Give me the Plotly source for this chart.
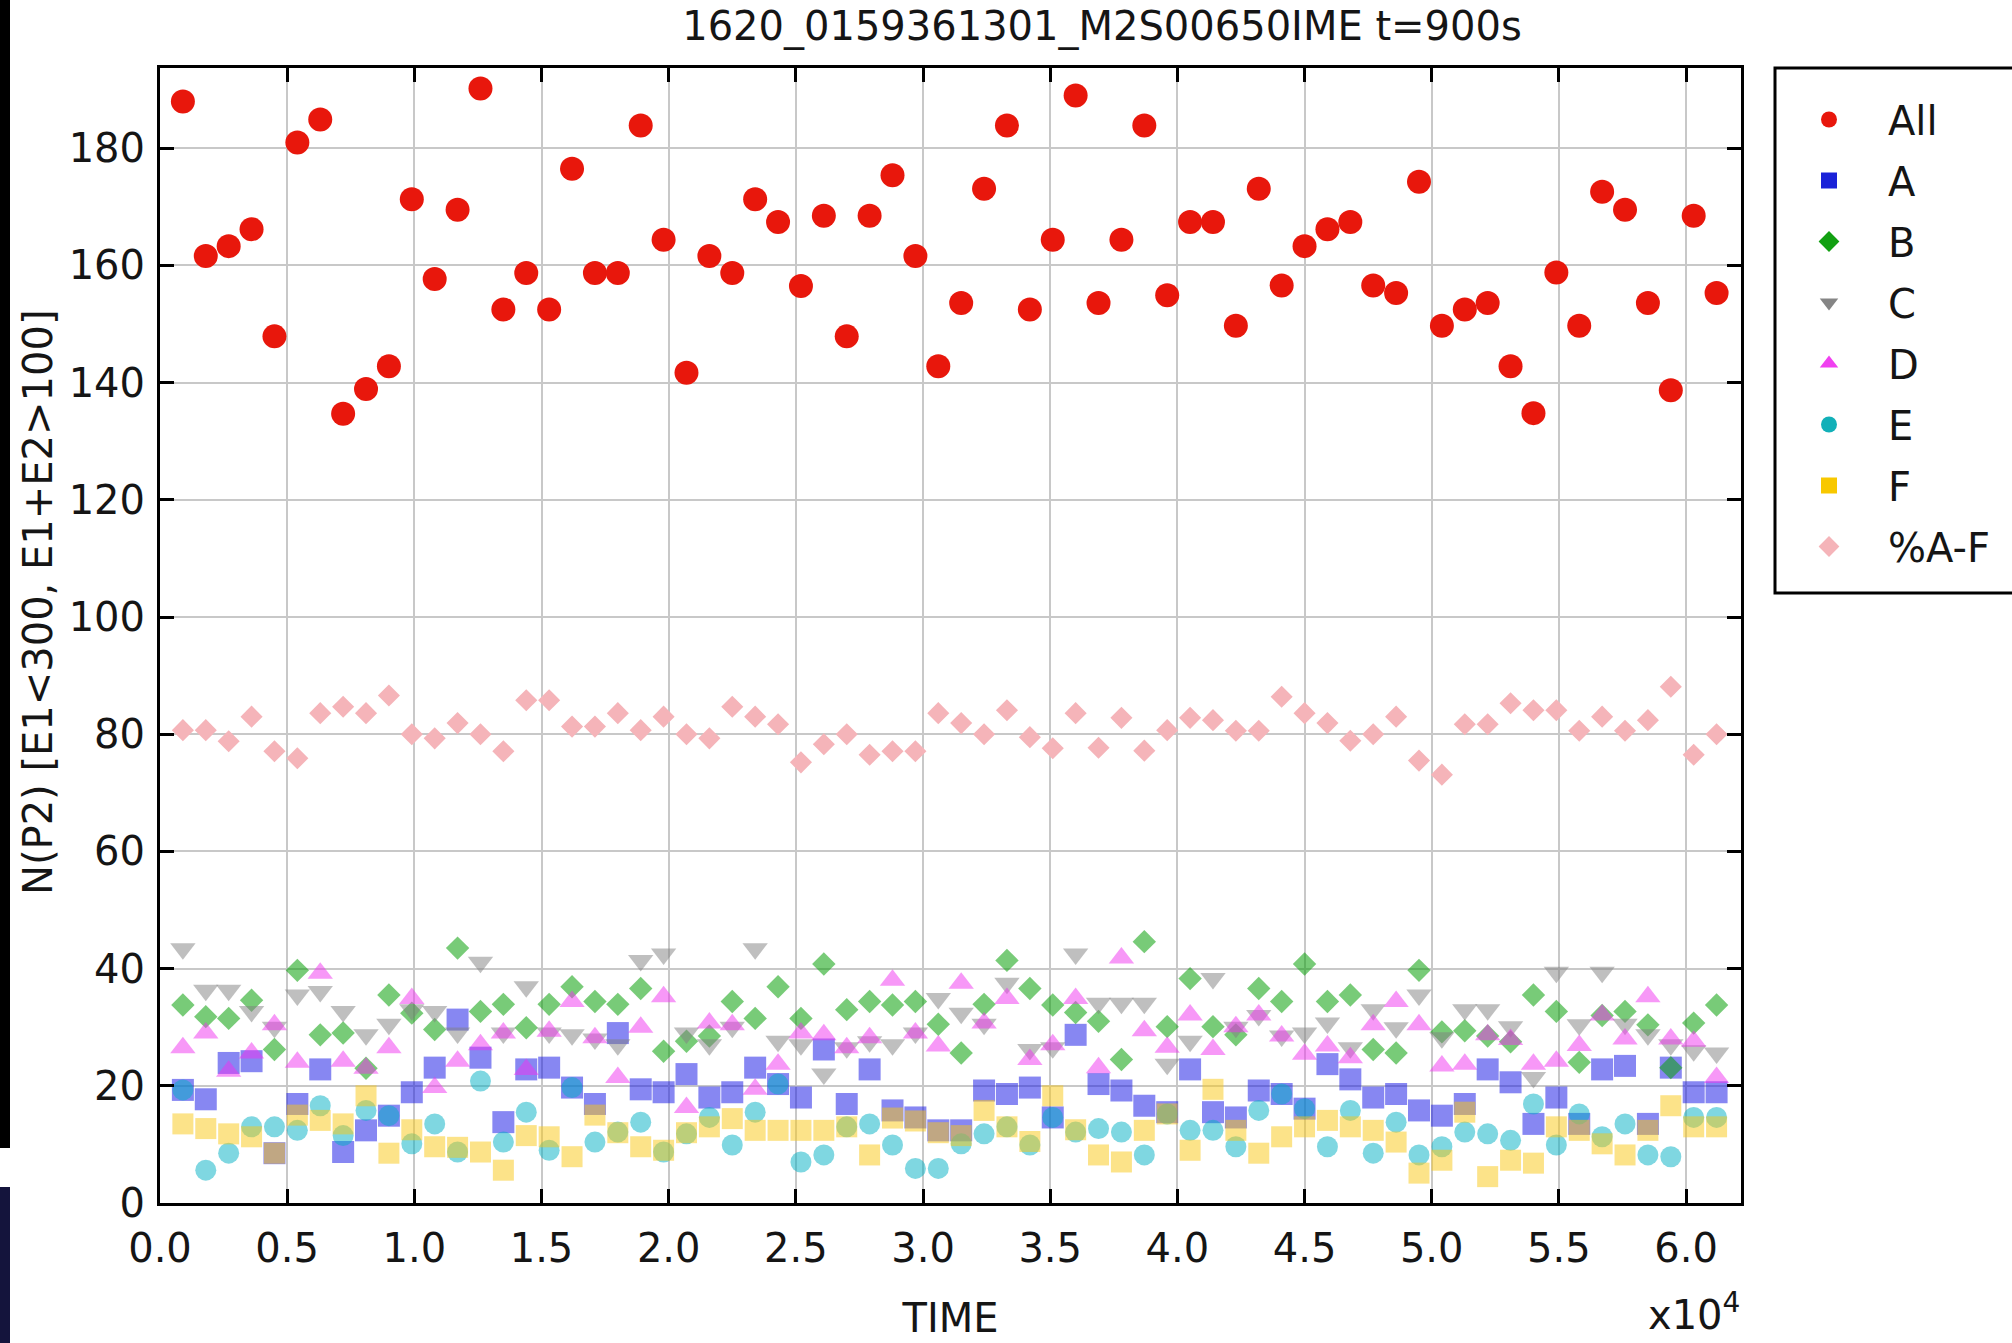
import plotly.graph_objects as go

# ---------------- data ----------------
time_s = [900, 1800, 2700, 3600, 4500, 5400, 6300, 7200, 8100, 9000,
          9900, 10800, 11700, 12600, 13500, 14400, 15300, 16200, 17100, 18000,
          18900, 19800, 20700, 21600, 22500, 23400, 24300, 25200, 26100, 27000,
          27900, 28800, 29700, 30600, 31500, 32400, 33300, 34200, 35100, 36000,
          36900, 37800, 38700, 39600, 40500, 41400, 42300, 43200, 44100, 45000,
          45900, 46800, 47700, 48600, 49500, 50400, 51300, 52200, 53100, 54000,
          54900, 55800, 56700, 57600, 58500, 59400, 60300, 61200]

all_counts = [188.0, 161.6, 163.3, 166.2, 147.9, 181.0, 184.9, 134.7, 138.9, 142.8,
              171.3, 157.7, 169.5, 190.2, 152.5, 158.7, 152.5, 176.5, 158.7, 158.7,
              183.9, 164.4, 141.7, 161.6, 158.7, 171.3, 167.4, 156.5, 168.5, 147.9,
              168.5, 175.4, 161.6, 142.8, 153.6, 173.1, 183.9, 152.5, 164.4, 189.0,
              153.6, 164.4, 183.9, 154.9, 167.4, 167.4, 149.7, 173.1, 156.6, 163.3,
              166.2, 167.4, 156.6, 155.3, 174.3, 149.7, 152.5, 153.6, 142.8, 134.8,
              158.8, 149.7, 172.6, 169.5, 153.6, 138.7, 168.5, 155.3]

a_counts = [19.3, 17.7, 23.9, 24.2, 8.5, 16.9, 22.8, 8.7, 12.4, 14.9,
            18.9, 23.1, 31.3, 24.8, 13.8, 22.8, 23.1, 19.7, 16.9, 29.0,
            19.4, 18.9, 22.0, 18.0, 18.9, 23.1, 20.3, 18.0, 26.2, 16.9,
            22.8, 15.8, 14.6, 12.4, 12.4, 19.2, 18.6, 19.7, 14.6, 28.7,
            20.3, 19.2, 16.6, 15.5, 22.8, 15.5, 14.6, 19.2, 18.6, 16.1,
            23.7, 21.1, 18.0, 18.6, 15.8, 14.9, 16.9, 22.8, 20.6, 13.5,
            18.0, 13.5, 22.8, 23.4, 13.5, 23.1, 18.9, 18.9]

b_counts = [33.8, 31.8, 31.5, 34.6, 26.2, 39.7, 28.7, 29.0, 23.0, 35.5,
            32.4, 29.6, 43.5, 32.7, 33.9, 29.9, 33.9, 36.9, 34.4, 33.9,
            36.6, 25.9, 27.6, 28.5, 34.4, 31.5, 36.9, 31.5, 40.8, 33.0,
            34.4, 33.8, 34.4, 30.5, 25.6, 33.9, 41.4, 36.6, 33.8, 32.5,
            31.0, 24.5, 44.6, 30.1, 38.3, 30.1, 28.7, 36.6, 34.4, 40.8,
            34.4, 35.5, 26.2, 25.6, 39.7, 29.2, 29.4, 28.5, 27.5, 35.5,
            32.7, 24.0, 32.0, 32.7, 30.4, 23.1, 30.7, 33.8]

c_counts = [43.4, 36.3, 36.3, 32.7, 30.0, 35.5, 36.1, 32.7, 28.7, 30.5,
            33.0, 32.7, 29.0, 41.1, 29.0, 36.9, 29.0, 28.7, 28.0, 27.0,
            41.4, 42.5, 29.0, 27.0, 30.0, 43.4, 27.6, 27.0, 22.0, 26.5,
            27.5, 27.0, 29.0, 34.9, 32.4, 30.5, 37.5, 26.2, 26.5, 42.5,
            34.1, 34.1, 34.1, 23.7, 27.6, 38.3, 30.0, 32.0, 28.5, 29.0,
            30.7, 26.5, 33.0, 29.9, 35.5, 28.2, 33.0, 33.0, 30.1, 21.4,
            39.4, 30.4, 39.4, 30.5, 28.7, 27.0, 26.0, 25.6]

d_counts = [26.5, 29.0, 22.5, 25.6, 30.4, 24.0, 39.2, 24.2, 23.0, 26.5,
            34.9, 19.7, 24.2, 27.0, 29.0, 22.8, 29.3, 34.4, 28.2, 21.4,
            30.0, 35.2, 16.3, 30.7, 30.4, 19.4, 23.7, 29.0, 28.7, 26.5,
            28.2, 38.0, 29.0, 26.8, 37.5, 30.7, 34.9, 24.5, 27.0, 34.9,
            23.1, 41.8, 29.4, 26.6, 32.1, 26.2, 30.1, 32.1, 28.5, 25.4,
            26.8, 24.8, 30.4, 34.4, 30.4, 23.4, 23.7, 28.7, 27.9, 23.7,
            24.2, 26.9, 32.1, 28.0, 35.2, 28.0, 27.6, 21.4]

e_counts = [19.3, 5.6, 8.5, 13.0, 13.0, 12.4, 16.6, 11.5, 15.8, 14.9,
            10.1, 13.5, 8.7, 20.8, 10.4, 15.5, 9.0, 19.7, 10.4, 12.1,
            13.8, 8.7, 11.8, 14.6, 9.9, 15.5, 20.3, 7.0, 8.2, 13.0,
            13.5, 9.9, 5.9, 5.9, 10.1, 11.8, 13.0, 9.9, 14.6, 12.1,
            12.7, 12.1, 8.2, 15.2, 12.4, 12.4, 9.6, 15.8, 18.6, 16.1,
            9.6, 15.8, 8.5, 13.8, 8.2, 9.6, 12.1, 11.8, 10.7, 16.9,
            9.9, 15.2, 11.3, 13.5, 8.2, 7.9, 14.6, 14.6]

f_counts = [13.5, 12.7, 11.8, 11.3, 8.5, 15.0, 14.1, 13.5, 18.3, 8.5,
            12.5, 9.6, 9.5, 8.7, 5.6, 11.5, 11.3, 7.9, 15.0, 12.0,
            9.6, 9.0, 12.0, 13.0, 14.4, 12.4, 12.4, 12.4, 12.4, 13.0,
            8.2, 14.5, 14.0, 12.0, 11.5, 15.8, 13.0, 10.5, 18.3, 12.5,
            8.2, 7.0, 12.4, 15.2, 9.0, 19.4, 12.4, 8.5, 11.3, 13.0,
            14.1, 13.0, 12.4, 10.4, 5.1, 7.3, 15.5, 4.5, 7.3, 6.8,
            13.0, 12.4, 10.1, 8.2, 12.4, 16.6, 13.0, 13.0]

pct_af = [80.7, 80.7, 78.8, 83.0, 77.1, 75.9, 83.6, 84.7, 83.6, 86.6,
          80.0, 79.3, 81.9, 80.0, 77.1, 85.8, 85.8, 81.3, 81.3, 83.6,
          80.7, 83.0, 80.0, 79.3, 84.7, 83.0, 81.7, 75.2, 78.3, 80.0,
          76.5, 77.1, 77.1, 83.6, 81.9, 80.0, 84.1, 79.5, 77.6, 83.6,
          77.7, 82.8, 77.2, 80.7, 82.8, 82.4, 80.6, 80.6, 86.4, 83.6,
          81.9, 78.9, 80.0, 83.0, 75.5, 73.1, 81.7, 81.7, 85.3, 84.1,
          84.1, 80.6, 83.0, 80.6, 82.4, 88.1, 76.5, 80.0]

x_tickvals = [0, 5000, 10000, 15000, 20000, 25000, 30000, 35000, 40000, 45000, 50000, 55000, 60000]
x_ticktext = ["0.0", "0.5", "1.0", "1.5", "2.0", "2.5", "3.0", "3.5", "4.0", "4.5", "5.0", "5.5", "6.0"]
y_tickvals = [0, 20, 40, 60, 80, 100, 120, 140, 160, 180]

# ---------------- layout geometry (pixels) ----------------
W, H = 2012, 1343
L, R, T, B = 160, 271, 68, 140
PW, PH = W - L - R, H - T - B


def px(xp):
    return (xp - L) / PW


def py(yp):
    return (H - B - yp) / PH


FONT = "DejaVu Sans"
TXT = "#151515"

fig = go.Figure()

styles = {
    # name: (values, symbol, plot color, legend color, size)
    "A": (a_counts, "square", "rgba(15,15,230,0.5)", "#1a22d8", 22),
    "B": (b_counts, "diamond", "rgba(10,160,10,0.55)", "#12a012", 18),
    "C": (c_counts, "triangle-down", "rgba(128,128,128,0.5)", "#858585", 22),
    "D": (d_counts, "triangle-up", "rgba(240,50,240,0.5)", "#f040f0", 22),
    "E": (e_counts, "circle", "rgba(0,175,195,0.5)", "#12b0b8", 21),
    "F": (f_counts, "square", "rgba(250,200,20,0.5)", "#f8c800", 21),
}

# data traces (legend handled by solid-symbol entries below)
for name in ["A", "B", "C", "D", "E", "F"]:
    vals, sym, col, lcol, size = styles[name]
    fig.add_trace(go.Scatter(
        x=time_s, y=vals, mode="markers", name=name, legendgroup=name,
        showlegend=False,
        marker=dict(symbol=sym, color=col, size=size, line=dict(width=0)),
    ))

fig.add_trace(go.Scatter(
    x=time_s, y=pct_af, mode="markers", name="%A-F", legendgroup="%A-F",
    showlegend=False,
    marker=dict(symbol="diamond", color="#f5b4b9", size=17, line=dict(width=0)),
))
fig.add_trace(go.Scatter(
    x=time_s, y=all_counts, mode="markers", name="All", legendgroup="All",
    showlegend=False,
    marker=dict(symbol="circle", color="#e8170c", size=24, line=dict(width=0)),
))

legend_specs = [
    ("All", "circle", "#e8170c"),
    ("A", "square", styles["A"][3]),
    ("B", "diamond", styles["B"][3]),
    ("C", "triangle-down", styles["C"][3]),
    ("D", "triangle-up", styles["D"][3]),
    ("E", "circle", styles["E"][3]),
    ("F", "square", styles["F"][3]),
    ("%A-F", "diamond", "#f5b4b9"),
]
for name, sym, col in legend_specs:
    fig.add_trace(go.Scatter(
        x=[None], y=[None], mode="markers", name=name, legendgroup=name,
        showlegend=True,
        marker=dict(symbol=sym, color=col, size=16, line=dict(width=0)),
    ))

axis_common = dict(
    showline=True, linecolor="black", linewidth=3, mirror="ticks",
    ticks="inside", ticklen=14, tickwidth=3, tickcolor="black",
    showgrid=True, gridcolor="#c8c8c8", gridwidth=2, zeroline=False,
    tickfont=dict(family=FONT, size=40, color=TXT),
)

fig.update_layout(
    width=W, height=H,
    margin=dict(l=L, r=R, t=T, b=B, autoexpand=False),
    paper_bgcolor="white", plot_bgcolor="white",
    font=dict(family=FONT, size=40, color=TXT),
    title=dict(text="1620_0159361301_M2S00650IME t=900s",
               x=1102 / W, xref="container", xanchor="center",
               y=1 - 26 / H, yref="container", yanchor="middle",
               font=dict(family=FONT, size=40, color=TXT)),
    xaxis=dict(range=[0, 62160], tickvals=x_tickvals, ticktext=x_ticktext,
               ticklabelstandoff=8,
               title=dict(text="TIME", standoff=34,
                          font=dict(family=FONT, size=40, color=TXT)),
               **axis_common),
    yaxis=dict(range=[0, 193.7], tickvals=y_tickvals,
               ticklabelstandoff=4,
               **axis_common),
    showlegend=True,
    legend=dict(x=px(1770), xanchor="left", y=py(87), yanchor="top",
                bgcolor="rgba(0,0,0,0)", borderwidth=0,
                font=dict(family=FONT, size=40, color=TXT),
                itemwidth=108, tracegroupgap=6, traceorder="grouped",
                itemclick=False, itemdoubleclick=False),
    annotations=[
        # y-axis title (placed as in the reference, slightly above centre)
        dict(text="N(P2) [E1<300, E1+E2>100]", xref="paper", yref="paper",
             x=px(38), y=py(603), xanchor="center", yanchor="middle",
             textangle=-90, showarrow=False,
             font=dict(family=FONT, size=40, color=TXT)),
        dict(text="x10<sup>4</sup>", xref="paper", yref="paper",
             x=px(1742), y=py(1312), xanchor="right", yanchor="middle",
             showarrow=False, font=dict(family=FONT, size=40, color=TXT)),
    ],
    shapes=[
        # legend frame
        dict(type="rect", xref="paper", yref="paper",
             x0=px(1775), x1=px(2030), y0=py(593), y1=py(68),
             line=dict(color="black", width=3), fillcolor="rgba(0,0,0,0)"),
        # dark strips at the left edge of the screenshot
        dict(type="rect", xref="paper", yref="paper",
             x0=px(0), x1=px(10), y0=py(1148), y1=py(0),
             line=dict(width=0), fillcolor="black"),
        dict(type="rect", xref="paper", yref="paper",
             x0=px(0), x1=px(10), y0=py(1343), y1=py(1187),
             line=dict(width=0), fillcolor="#14143c"),
    ],
)

fig.write_html("out.html")
